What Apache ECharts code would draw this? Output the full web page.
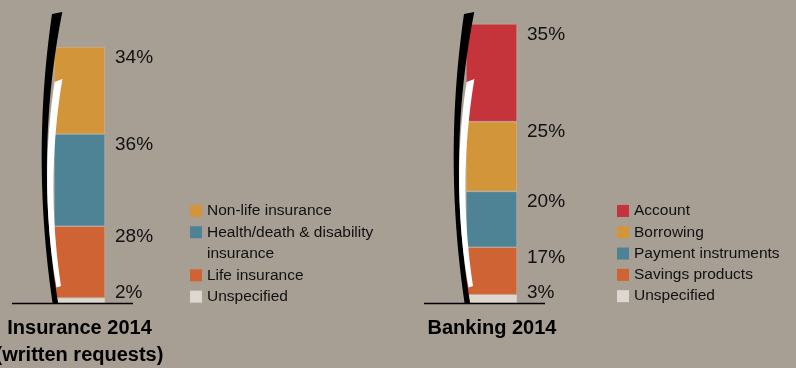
<!DOCTYPE html>
<html>
<head>
<meta charset="utf-8">
<script src="https://cdn.jsdelivr.net/npm/echarts@6/dist/echarts.min.js"></script>
<style>
  html, body { margin: 0; padding: 0; background: #a79e94; }
  #chart { width: 796px; height: 368px; }
</style>
</head>
<body>
<div id="chart"></div>
<script>
// Segments listed bottom-to-top as they stack in each column.
const insuranceNames = ['Unspecified', 'Life insurance', 'Health/death & disability insurance', 'Non-life insurance'];
const insuranceValues = [2, 28, 36, 34];
const bankingNames = ['Unspecified', 'Savings products', 'Payment instruments', 'Borrowing', 'Account'];
const bankingValues = [3, 17, 20, 25, 35];
const columnTitles = ['Insurance 2014\n(written requests)', 'Banking 2014'];

const palette = {
  'Unspecified': '#ddd7d0',
  'Life insurance': '#d06333',
  'Health/death & disability insurance': '#4e8396',
  'Non-life insurance': '#d3953a',
  'Savings products': '#d06333',
  'Payment instruments': '#4e8396',
  'Borrowing': '#d3953a',
  'Account': '#c5333b'
};

const FONT = "'Liberation Sans', Arial, sans-serif";
const TEXT = '#111111';

// Column geometry (pixels)
const BASE_Y = 303;
const insLeft = 54, bankLeft = 466, colWidth = 51;

function stackSeries(names, values, axis, stackId) {
  return names.map((name, i) => ({
    name: name,
    type: 'bar',
    stack: stackId,
    xAxisIndex: axis,
    yAxisIndex: axis,
    barWidth: '100%',
    data: [values[i]],
    itemStyle: { color: palette[name], borderColor: 'rgba(226,214,204,0.5)', borderWidth: 0.6 },
    label: i === 0 ? {
      show: true, position: ['100%', '100%'], verticalAlign: 'bottom', align: 'left',
      offset: [10, -1], formatter: '{c}%', color: TEXT, fontSize: 19, fontFamily: FONT
    } : {
      show: true, position: ['100%', 0], verticalAlign: 'top', align: 'left',
      offset: [10, 1], formatter: '{c}%', color: TEXT, fontSize: 19, fontFamily: FONT
    }
  }));
}

// Decorative bow strokes beside each column. Each bow is a crescent bounded by two
// quadratic curves, given relative to the column's left edge: [start, control, end].
function quadPoints(p0, c, p1, steps) {
  const pts = [];
  for (let k = 0; k <= steps; k++) {
    const t = k / steps, u = 1 - t;
    pts.push([u * u * p0[0] + 2 * u * t * c[0] + t * t * p1[0],
              u * u * p0[1] + 2 * u * t * c[1] + t * t * p1[1]]);
  }
  return pts;
}
function crescent(outer, inner) {
  // outer runs top -> bottom, inner runs bottom -> top to close the shape
  return quadPoints(outer[0], outer[1], outer[2], 40)
    .concat(quadPoints(inner[0], inner[1], inner[2], 40));
}
const blackBow = crescent([[8.3, 12], [-20.3, 157.5], [4.3, 304]], [[-1.3, 304], [-23, 158.5], [-2, 14]]);
const whiteBow = crescent([[8.4, 79], [-8.8, 182.5], [7.0, 286]], [[2.5, 287.5], [-15.2, 184.5], [0.6, 82]]);

function decorations(left) {
  return [
    { type: 'polygon', x: left, y: 0, z: 100, shape: { points: blackBow }, style: { fill: '#000' } },
    { type: 'polygon', x: left, y: 0, z: 101, shape: { points: whiteBow }, style: { fill: '#fff' } },
    { type: 'line', x: left, y: 0, z: 99, shape: { x1: -42, y1: BASE_Y + 0.5, x2: 79, y2: BASE_Y + 0.5 },
      style: { stroke: '#000', lineWidth: 1.6 } }
  ];
}

const legendText = { fontSize: 15.5, fontFamily: FONT, color: TEXT, lineHeight: 21.3 };
const legendBase = {
  orient: 'vertical', icon: 'rect', itemWidth: 12, itemHeight: 12, itemGap: 0,
  padding: 0, selectedMode: false, textStyle: legendText,
  itemStyle: { borderWidth: 0 }
};

const option = {
  backgroundColor: '#a79e94',
  animation: false,
  title: [
    { text: columnTitles[0], left: 79.5, top: 314.5, textAlign: 'center', padding: 0,
      textStyle: { fontSize: 20, fontWeight: 'bold', lineHeight: 27, color: '#000', fontFamily: FONT } },
    { text: columnTitles[1], left: 492, top: 314.5, textAlign: 'center', padding: 0,
      textStyle: { fontSize: 20, fontWeight: 'bold', lineHeight: 27, color: '#000', fontFamily: FONT } }
  ],
  legend: [
    Object.assign({}, legendBase, {
      left: 190, top: 200.3,
      data: ['Non-life insurance', 'Health/death & disability insurance'],
      formatter: n => n === 'Health/death & disability insurance' ? 'Health/death & disability' : n
    }),
    Object.assign({}, legendBase, {
      left: 190, top: 264.7,
      data: ['Life insurance', 'Unspecified']
    }),
    Object.assign({}, legendBase, {
      left: 617, top: 200.3,
      data: bankingNames.slice().reverse()
    })
  ],
  grid: [
    { left: insLeft, width: colWidth, top: 47, bottom: 368 - BASE_Y },
    { left: bankLeft, width: colWidth, top: 24, bottom: 368 - BASE_Y }
  ],
  xAxis: [
    { type: 'category', gridIndex: 0, data: ['Insurance'], show: false },
    { type: 'category', gridIndex: 1, data: ['Banking'], show: false }
  ],
  yAxis: [
    { type: 'value', gridIndex: 0, min: 0, max: 100, show: false },
    { type: 'value', gridIndex: 1, min: 0, max: 100, show: false }
  ],
  graphic: [].concat(
    decorations(insLeft),
    decorations(bankLeft),
    [{ type: 'text', left: 207, top: 243, z: 10,
       style: { text: 'insurance', fontSize: 15.5, fontFamily: FONT, fill: TEXT, lineHeight: 21.3 } }]
  ),
  series: [].concat(
    stackSeries(insuranceNames, insuranceValues, 0, 'ins'),
    stackSeries(bankingNames, bankingValues, 1, 'bank')
  )
};

const chart = echarts.init(document.getElementById('chart'), null, { renderer: 'canvas' });
chart.setOption(option);
</script>
</body>
</html>
